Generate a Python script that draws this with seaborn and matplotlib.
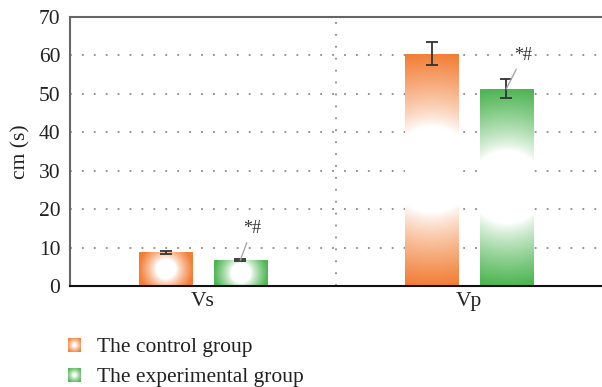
import numpy as np
import pandas as pd
import matplotlib
matplotlib.use("Agg")
import matplotlib.pyplot as plt
from matplotlib.colors import to_rgb
from matplotlib.patches import Patch
import seaborn as sns

# --- data -------------------------------------------------------------
categories = ["Vs", "Vp"]
groups = ["The control group", "The experimental group"]
control_mean = [8.8, 60.4]
control_err = [0.4, 3.0]
experimental_mean = [6.7, 51.3]
experimental_err = [0.3, 2.5]
y_ticks = [0, 10, 20, 30, 40, 50, 60, 70]
mark_text = "*#"

colors = {"The control group": "#F27E35", "The experimental group": "#4DB552"}

df = pd.DataFrame({
    "index": categories * 2,
    "group": [groups[0]] * 2 + [groups[1]] * 2,
    "value": control_mean + experimental_mean,
})

FS = 15.5
sns.set_theme(style="white")
plt.rcParams["font.family"] = ["Liberation Serif", "DejaVu Serif"]


def radial_fill(wpx, hpx, col, r0=0.37, scale=None):
    """White centre fading out to the full colour at the edge."""
    nx, ny = max(int(wpx * 2), 4), max(int(hpx * 2), 4)
    xs = (np.arange(nx) + 0.5) / nx * wpx - wpx / 2
    ys = (np.arange(ny) + 0.5) / ny * hpx - hpx / 2
    X, Y = np.meshgrid(xs, ys)
    R = scale if scale is not None else max(wpx, hpx) / 2
    d = np.sqrt(X ** 2 + Y ** 2) / R
    t = np.clip((d - r0) / (1 - r0), 0, 1) ** 0.8
    return (1 - t[..., None]) + t[..., None] * col[None, None, :]


fig = plt.figure(figsize=(6.02, 3.87), dpi=100)
ax = fig.add_axes([70 / 602, 1 - 286 / 387, 1 - 70 / 602, (286 - 17) / 387])

sns.barplot(data=df, x="index", y="value", hue="group", order=categories,
            hue_order=groups, palette=colors, saturation=1, width=0.56,
            gap=0.2857, errorbar=None, legend=False, ax=ax, zorder=2)

ax.set_xlim(-0.5, 1.5)
ax.set_ylim(0, 70)
fig.canvas.draw()

# gradient fill for each bar, clipped to the bar outline
for patch in list(ax.patches):
    x0, y0 = patch.get_x(), patch.get_y()
    w, h = patch.get_width(), patch.get_height()
    col = np.array(to_rgb(patch.get_facecolor()))
    p0 = ax.transData.transform((x0, y0))
    p1 = ax.transData.transform((x0 + w, y0 + h))
    img = radial_fill(abs(p1[0] - p0[0]), abs(p1[1] - p0[1]), col)
    im = ax.imshow(img, extent=(x0, x0 + w, y0, y0 + h), origin="lower",
                   aspect="auto", zorder=2, interpolation="bilinear")
    im.set_clip_path(patch)
    patch.set_facecolor("none")
    patch.set_edgecolor("none")

# error bars
for gi, (means, errs) in enumerate([(control_mean, control_err),
                                     (experimental_mean, experimental_err)]):
    offset = -0.14 if gi == 0 else 0.14
    xpos = [i + offset for i in range(len(categories))]
    ax.errorbar(xpos, means, yerr=errs, fmt="none", ecolor="#333333",
                elinewidth=1.3, capsize=4, capthick=1.3, zorder=4)

# significance marks on the experimental group, leader line to the bar top
mark_pos = [(0.185, 15.0), (1.205, 60.1)]
for i, (tx, ty) in enumerate(mark_pos):
    ax.annotate(mark_text, xy=(i + 0.14, experimental_mean[i]),
                xytext=(tx, ty), ha="center", va="center", fontsize=13,
                color="#333333", zorder=5,
                arrowprops=dict(arrowstyle="-", color="#a8a8a8", lw=1.0,
                                shrinkA=2, shrinkB=0))

# dotted grid
dots = (0, (1, 5.6))
for yv in y_ticks[1:-1]:
    ax.axhline(yv, color="#8a8a8a", lw=1.3, ls=dots, zorder=1)
ax.axvline(0.5, color="#8a8a8a", lw=1.3, ls=dots, zorder=1)

ax.set_xlim(-0.5, 1.5)
ax.set_ylim(0, 70)
ax.set_yticks(y_ticks)
ax.set_xlabel("")
ax.set_ylabel("cm (s)", fontsize=FS, color="#222222", labelpad=6)
ax.tick_params(axis="both", length=0, labelsize=FS, labelcolor="#222222")
ax.tick_params(axis="y", pad=7)
ax.tick_params(axis="x", pad=4)

for side in ["left", "top"]:
    ax.spines[side].set_color("#666666")
    ax.spines[side].set_linewidth(1.5)
ax.spines["bottom"].set_color("#111111")
ax.spines["bottom"].set_linewidth(1.5)
ax.spines["right"].set_visible(False)

handles = [Patch(facecolor=colors[g], edgecolor="none", label=g) for g in groups]
leg = fig.legend(handles=handles, loc="upper left", bbox_to_anchor=(0.113, 0.127),
                 frameon=False, fontsize=FS, handlelength=0.6, handleheight=0.6,
                 handletextpad=0.75, labelspacing=0.5, borderaxespad=0,
                 borderpad=0)
for txt in leg.get_texts():
    txt.set_color("#222222")

# legend swatches carry the same radial fill as the bars
fig.canvas.draw()
for handle, g in zip(leg.legend_handles, groups):
    bb = handle.get_window_extent().transformed(fig.transFigure.inverted())
    sw = fig.add_axes([bb.x0, bb.y0, bb.width, bb.height])
    wpx = bb.width * fig.bbox.width
    hpx = bb.height * fig.bbox.height
    sw.imshow(radial_fill(wpx, hpx, np.array(to_rgb(colors[g])), r0=0.2,
                          scale=max(wpx, hpx) / 2 * 1.2),
              aspect="auto", interpolation="bilinear")
    sw.set_axis_off()
    handle.set_visible(False)

fig.savefig("out.png", dpi=100)
